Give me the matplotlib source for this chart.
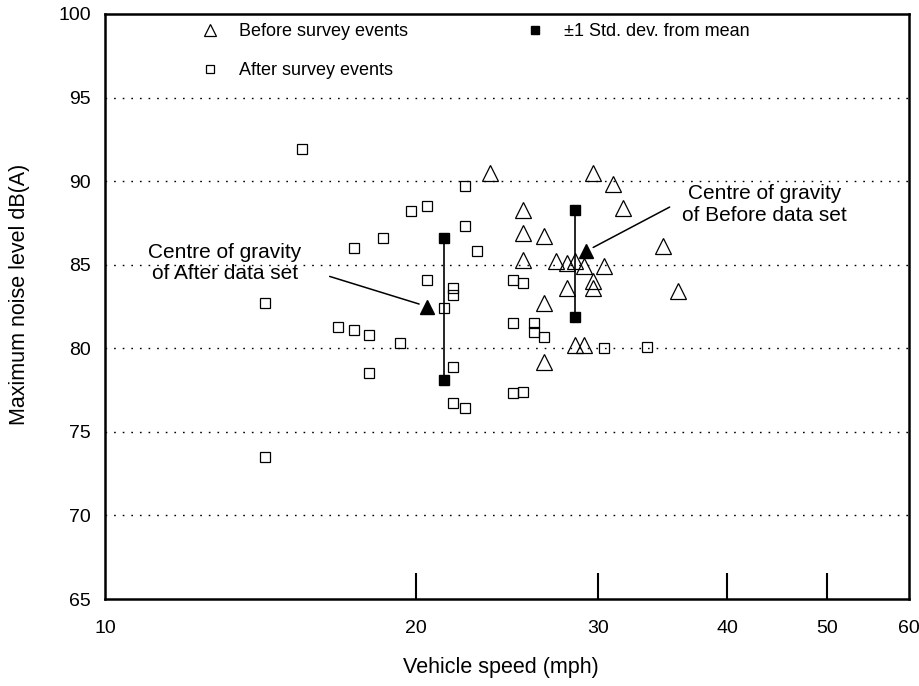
import matplotlib.pyplot as plt
from matplotlib.lines import Line2D
from matplotlib.ticker import NullLocator

plt.rcParams['font.family'] = ['Liberation Sans', 'DejaVu Sans']

# before-survey events: speed (mph), max noise level dB(A)
before_speed = [23.6, 29.7, 31.0, 31.7, 25.4, 25.4, 26.6, 34.7, 25.4, 27.3, 28.0,
                28.5, 29.1, 30.4, 29.7, 29.7, 28.0, 35.9, 26.6, 28.5, 29.1, 26.6]
before_level = [90.5, 90.5, 89.8, 88.4, 88.3, 86.9, 86.7, 86.1, 85.3, 85.2, 85.1,
                85.2, 84.9, 84.9, 84.0, 83.6, 83.6, 83.4, 82.7, 80.2, 80.2, 79.2]

# after-survey events
after_speed = [15.5, 22.3, 20.5, 19.8, 22.3, 18.6, 17.4, 22.9, 20.5, 21.7, 21.7,
               21.3, 14.3, 16.8, 17.4, 18.0, 19.3, 18.0, 21.7, 21.7, 22.3, 14.3,
               24.8, 25.4, 24.8, 24.8, 25.4, 26.0, 26.0, 26.6, 30.4, 33.5]
after_level = [91.9, 89.7, 88.5, 88.2, 87.3, 86.6, 86.0, 85.8, 84.1, 83.6, 83.2,
               82.4, 82.7, 81.3, 81.1, 80.8, 80.3, 78.5, 78.9, 76.7, 76.4, 73.5,
               84.1, 83.9, 81.5, 77.3, 77.4, 81.5, 81.0, 80.7, 80.0, 80.1]

# centres of gravity and +/-1 std. dev. bars
before_centre = (29.2, 85.8)
after_centre = (20.5, 82.5)
before_sd_speed = 28.5
before_sd_range = [81.9, 88.3]
after_sd_speed = 21.3
after_sd_range = [78.1, 86.6]

speed_ticks = [10, 20, 30, 40, 50, 60]
level_ticks = [65, 70, 75, 80, 85, 90, 95, 100]

fig = plt.figure(figsize=(9.2, 6.86), dpi=100)
ax = fig.add_axes([0.1141, 0.1268, 0.8739, 0.8528])

ax.set_xscale('log')
ax.set_xlim(10, 60)
ax.set_ylim(65, 100)

ax.set_yticks(level_ticks)
ax.tick_params(axis='y', length=0, pad=10, labelsize=14)
ax.set_xticks(speed_ticks)
ax.set_xticklabels([str(t) for t in speed_ticks])
ax.xaxis.set_minor_locator(NullLocator())
ax.tick_params(axis='x', direction='in', length=19, width=1.5, pad=15, labelsize=14)
# end ticks sit on the spines, hide them
xt = ax.xaxis.get_major_ticks()
xt[0].tick1line.set_visible(False)
xt[-1].tick1line.set_visible(False)

for s in ax.spines.values():
    s.set_linewidth(1.8)

# dotted horizontal grid
for lv in level_ticks[1:-1]:
    ax.axhline(lv, color='black', lw=1.0, linestyle=(0, (1.2, 5)), zorder=1)

ax.plot(before_speed, before_level, linestyle='none', marker='^', ms=12,
        mfc='none', mec='black', mew=0.9, zorder=3)
ax.plot(after_speed, after_level, linestyle='none', marker='s', ms=6.5,
        mfc='none', mec='black', mew=0.9, zorder=3)

for xs, rng in [(before_sd_speed, before_sd_range), (after_sd_speed, after_sd_range)]:
    ax.plot([xs, xs], rng, color='black', lw=1.2, zorder=2)
    ax.plot([xs, xs], rng, linestyle='none', marker='s', ms=6.5, color='black', zorder=4)

ax.plot(*before_centre, marker='^', ms=10, color='black', zorder=4)
ax.plot(*after_centre, marker='^', ms=10, color='black', zorder=4)

# labels for the two centres
ax.text(13.07, 85.1, 'Centre of gravity\nof After data set', ha='center', va='center',
        fontsize=15, linespacing=1.15)
ax.annotate('', xy=after_centre, xytext=(16.5, 84.3),
            arrowprops=dict(arrowstyle='-', color='black', lw=1.1, shrinkA=0, shrinkB=6))
ax.text(43.5, 88.6, 'Centre of gravity\nof Before data set', ha='center', va='center',
        fontsize=15, linespacing=1.15)
ax.annotate('', xy=before_centre, xytext=(35.2, 88.45),
            arrowprops=dict(arrowstyle='-', color='black', lw=1.1, shrinkA=0, shrinkB=6))

handles = [
    Line2D([], [], linestyle='none', marker='^', ms=8.5, mfc='none', mec='black', mew=0.9),
    Line2D([], [], linestyle='none', marker='s', ms=6, mfc='none', mec='black', mew=0.9),
    Line2D([], [], linestyle='none', marker='s', ms=5.5, color='black'),
]
labels = ['Before survey events', 'After survey events', '\u00b11 Std. dev. from mean']
ax.legend(handles, labels, ncol=2, loc='upper left', bbox_to_anchor=(0.119, 0.984),
          frameon=False, fontsize=13, borderpad=0, borderaxespad=0, handlelength=1.0,
          handletextpad=1.1, labelspacing=1.2, columnspacing=6.55)

ax.set_xlabel('Vehicle speed (mph)', fontsize=15.5)
ax.set_ylabel('Maximum noise level dB(A)', fontsize=15.5)
ax.xaxis.set_label_coords(0.4925, -0.099)
ax.yaxis.set_label_coords(-0.093, 0.52)

fig.savefig('out.png', dpi=100)
